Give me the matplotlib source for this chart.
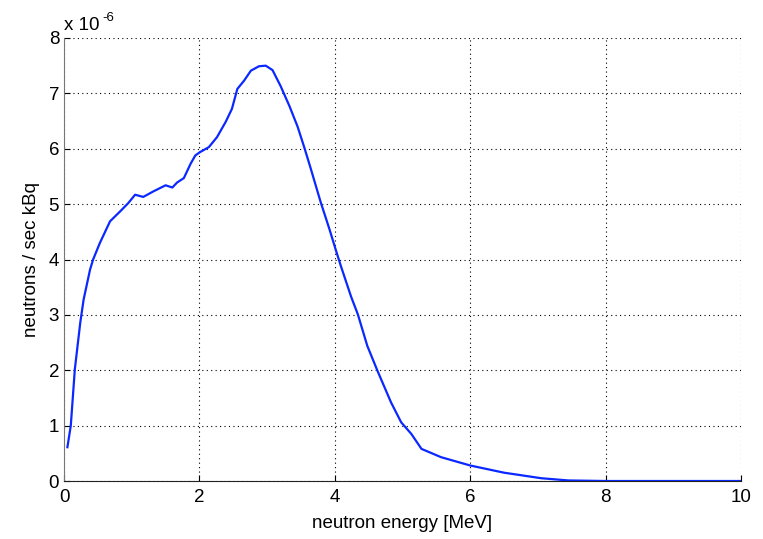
import matplotlib
matplotlib.use("Agg")
import matplotlib.pyplot as plt

plt.rcParams["font.family"] = ["Liberation Sans", "DejaVu Sans"]

# neutron energy [MeV]
energy = [0.05, 0.10, 0.16, 0.24, 0.29, 0.385, 0.43, 0.53, 0.68, 0.83, 0.95,
          1.05, 1.17, 1.32, 1.50, 1.60, 1.67, 1.77, 1.87, 1.94, 2.01, 2.14,
          2.26, 2.39, 2.48, 2.56, 2.66, 2.76, 2.88, 2.98, 3.08, 3.20, 3.33,
          3.45, 3.55, 3.64, 3.79, 3.92, 4.01, 4.09, 4.24, 4.34, 4.48, 4.63,
          4.83, 4.98, 5.13, 5.28, 5.57, 6.00, 6.50, 7.05, 7.45, 8.0, 9.0,
          10.0]
# neutrons / sec kBq, in units of 1e-6
flux = [0.61, 1.00, 2.02, 2.86, 3.28, 3.82, 4.00, 4.30, 4.69, 4.87, 5.02,
        5.17, 5.13, 5.23, 5.34, 5.30, 5.39, 5.47, 5.73, 5.88, 5.94, 6.03,
        6.21, 6.49, 6.72, 7.08, 7.23, 7.41, 7.49, 7.50, 7.42, 7.13, 6.77,
        6.40, 6.02, 5.66, 5.04, 4.55, 4.19, 3.88, 3.33, 3.01, 2.44, 1.99,
        1.42, 1.06, 0.85, 0.58, 0.43, 0.28, 0.15, 0.05, 0.01, 0.0, 0.0,
        0.0]

fig = plt.figure(figsize=(7.63, 5.39), dpi=100)
ax = fig.add_axes([0.0839, 0.1076, 0.8873, 0.8219])

ax.plot(energy, flux, color="#0a28ff", linewidth=1.6)

ax.set_xlim(0, 10)
ax.set_ylim(0, 8)
ax.set_xticks([0, 2, 4, 6, 8, 10])
ax.set_yticks(range(0, 9))

ax.grid(True, linestyle=(0, (1, 3)), color="black", linewidth=0.8)
ax.spines["top"].set_visible(False)
ax.spines["right"].set_visible(False)
ax.spines["left"].set_color("#777777")
ax.spines["bottom"].set_color("#222222")
ax.tick_params(direction="in", length=4, labelsize=13.5, colors="black")
ax.tick_params(axis="x", pad=6)

ax.set_xlabel("neutron energy [MeV]", fontsize=13.5, labelpad=6)
ax.set_ylabel("neutrons / sec kBq", fontsize=13.5, labelpad=6)

# MATLAB style exponent label
ax.text(0.0, 1.008, "x 10", transform=ax.transAxes, fontsize=13.5,
        ha="left", va="bottom")
ax.text(0.056, 1.032, "-6", transform=ax.transAxes, fontsize=9.5,
        ha="left", va="bottom")

fig.savefig("out.png", dpi=100)
